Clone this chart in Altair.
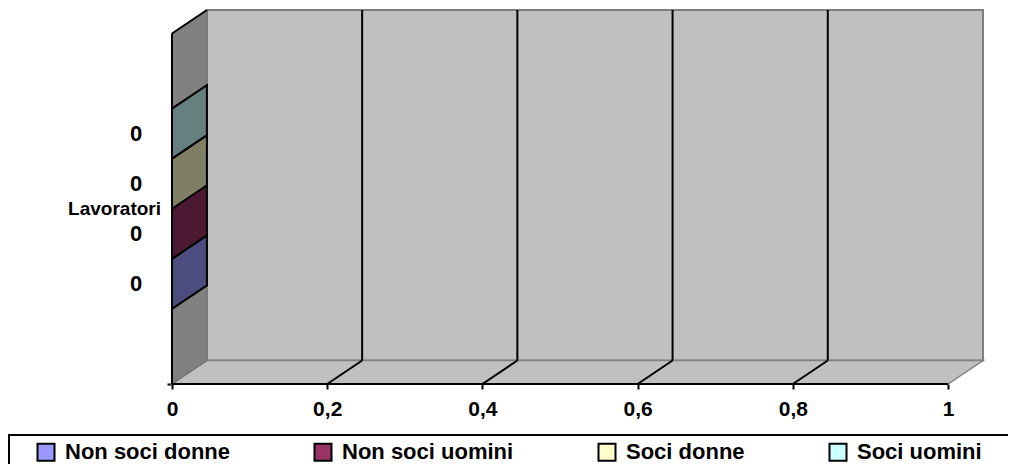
import altair as alt
import pandas as pd

# ---------------- data ----------------
category = "Lavoratori"
series = ["Non soci donne", "Non soci uomini", "Soci donne", "Soci uomini"]
values = [0, 0, 0, 0]
colors = ["#9999FF", "#993366", "#FFFFCC", "#CCFFFF"]
x_ticks = [0, 0.2, 0.4, 0.6, 0.8, 1]
gridlines = [0.2, 0.4, 0.6, 0.8]

# ---------------- geometry / style ----------------
X_MAX = 1.0
DX = 0.045      # 3D depth offset along x (value units)
DY = 0.067      # 3D depth offset along y (category band units)
GAP = 1.5       # Excel gap width (150%)
FONT = "Liberation Sans"


def darker(hexc, f=0.5):
    h = hexc.lstrip("#")
    r, g, b = (int(h[i:i + 2], 16) for i in (0, 2, 4))
    return "#%02X%02X%02X" % (int(r * f), int(g * f), int(b * f))


n = len(series)
bw = 1.0 / (n + 2 * GAP)

front_rows, end_rows = [], []
for i, (s, v, c) in enumerate(zip(series, values, colors)):
    y0 = GAP * bw + i * bw
    y1 = y0 + bw
    front_rows.append({"series": s, "x0": 0.0, "v": v, "y0": y0, "y1": y1,
                       "ymid": (y0 + y1) / 2,
                       "label": ("%g" % v).replace(".", ",")})
    end_rows.append({"series": s, "x": v, "y": y0, "y2": y1, "dark": darker(c)})
    end_rows.append({"series": s, "x": v + DX, "y": y0 + DY, "y2": y1 + DY, "dark": darker(c)})

front_df = pd.DataFrame(front_rows)
end_df = pd.DataFrame(end_rows)

back_df = pd.DataFrame({"x": [DX], "x2": [X_MAX + DX], "y": [DY], "y2": [1 + DY]})
side_df = pd.DataFrame({"x": [0, DX], "y": [0, DY], "y2": [1, 1 + DY]})
floor_df = pd.DataFrame({"x": [0, DX, X_MAX, X_MAX + DX],
                         "y": [0, 0, 0, DY],
                         "y2": [0, DY, DY, DY]})

line_rows = []
for t in gridlines:
    line_rows.append({"x": t + DX, "y": DY, "x2": t + DX, "y2": 1 + DY})
    line_rows.append({"x": t, "y": 0, "x2": t + DX, "y2": DY})
line_rows.append({"x": 0, "y": 0, "x2": X_MAX, "y2": 0})
line_rows.append({"x": 0, "y": 0, "x2": 0, "y2": 1})
line_rows.append({"x": 0, "y": 1, "x2": DX, "y2": 1 + DY})
lines_df = pd.DataFrame(line_rows)

cat_df = pd.DataFrame({"category": [category], "x0": [0.0], "yc": [0.5]})
box_df = pd.DataFrame({"k": [0]})

# ---------------- scales / axes ----------------
xs = alt.Scale(domain=[0, X_MAX + DX], nice=False, zero=False)
ys = alt.Scale(domain=[0, 1 + DY], nice=False, zero=False)
xaxis = alt.Axis(values=x_ticks, title=None, domain=False, grid=False,
                 tickColor="black", tickWidth=2, tickSize=5,
                 labelFont=FONT, labelFontWeight="bold", labelFontSize=21,
                 labelColor="black", labelPadding=9, labelFlush=False,
                 labelOverlap=False,
                 labelExpr="replace(format(datum.value, '~g'), '.', ',')")
yaxis = alt.Axis(values=[0], title=None, domain=False, grid=False, labels=False,
                 tickColor="black", tickWidth=2, tickSize=5)


def X(f):
    return alt.X(f, type="quantitative", scale=xs, axis=xaxis)


def Y(f):
    return alt.Y(f, type="quantitative", scale=ys, axis=yaxis, stack=None)


back = alt.Chart(back_df).mark_rect(fill="#C0C0C0", stroke="#808080", strokeWidth=2).encode(
    x=X("x"), x2="x2", y=Y("y"), y2="y2")

floor = alt.Chart(floor_df).mark_area(fill="#C0C0C0", stroke="#808080", strokeWidth=1.5).encode(
    x=X("x"), y=Y("y"), y2="y2")

side = alt.Chart(side_df).mark_area(fill="#808080", stroke="#707070", strokeWidth=1).encode(
    x=X("x"), y=Y("y"), y2="y2")

ends = alt.Chart(end_df).mark_area(stroke="black", strokeWidth=2).encode(
    x=X("x"), y=Y("y"), y2="y2",
    fill=alt.Fill("dark:N", scale=None),
    detail="series:N")

legend = alt.Legend(orient="none", legendX=-137, legendY=431, direction="horizontal",
                    columns=4, title=None, symbolType="square", symbolSize=289,
                    symbolStrokeColor="black", symbolStrokeWidth=2, symbolOpacity=1,
                    labelFont=FONT, labelFontWeight="bold", labelFontSize=22,
                    labelColor="black", labelOffset=8, columnPadding=80,
                    padding=0, labelLimit=400)

front = alt.Chart(front_df).mark_rect(stroke="black", strokeWidth=1.5).encode(
    x=X("x0"), x2="v", y=Y("y0"), y2="y1",
    color=alt.Color("series:N", scale=alt.Scale(domain=series, range=colors),
                    legend=legend))

lines = alt.Chart(lines_df).mark_rule(color="black", strokeWidth=2).encode(
    x=X("x"), y=Y("y"), x2="x2", y2="y2")

labels = alt.Chart(front_df).mark_text(align="center", baseline="middle", dx=-36,
                                       font=FONT, fontWeight="bold", fontSize=22,
                                       color="black").encode(
    x=X("v"), y=Y("ymid"), text="label:N")

cat = alt.Chart(cat_df).mark_text(align="right", baseline="middle", dx=-11,
                                  font=FONT, fontWeight="bold", fontSize=19,
                                  color="black").encode(
    x=X("x0"), y=Y("yc"), text="category:N")

box = alt.Chart(box_df).mark_rect(fill="transparent", stroke="black", strokeWidth=2).encode(
    x=alt.value(-163), x2=alt.value(900), y=alt.value(425), y2=alt.value(490))

chart = alt.layer(back, floor, side, ends, front, lines, labels, cat, box).properties(
    width=811, height=374,
    padding={"left": 164, "top": 2, "right": 25, "bottom": 80},
    autosize=alt.AutoSizeParams(type="none"),
    background="white",
).configure_view(stroke="transparent")

chart.save("out.html", embed_options={"renderer": "svg", "actions": False})
